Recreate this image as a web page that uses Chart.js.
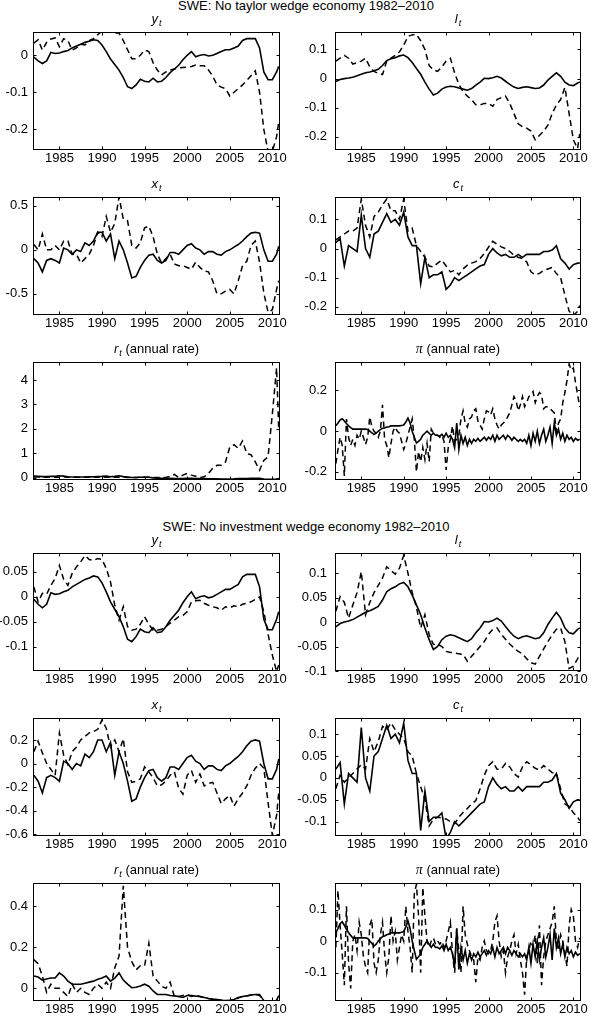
<!DOCTYPE html>
<html>
<head>
<meta charset="utf-8">
<title>SWE wedge economies</title>
<script src="https://cdn.jsdelivr.net/npm/chart.js@4.4.1/dist/chart.umd.min.js"></script>
<style>
    body { margin: 0; background: #fff; }
    #fig { position: relative; width: 591px; height: 1020px; overflow: hidden;
           font-family: "Liberation Sans", Arial, sans-serif; color: #000; }
    #fig canvas { position: absolute; }
    .ptitle { position: absolute; font-size: 13px; line-height: 16px; text-align: center; white-space: nowrap; }
    .btitle { position: absolute; left: 106px; width: 400px; font-size: 13px; line-height: 16px; text-align: center; white-space: nowrap; }
    .sub { font-size: 9px; font-style: italic; position: relative; top: 3px; margin-left: 1px; }
    .pi { font-family: "Liberation Serif", serif; font-style: italic; font-size: 14px; }
</style>
</head>
<body>
<div id="fig"></div>
<script>
// x positions (years)
const halfYears = [
    1982, 1982.5, 1983, 1983.5, 1984, 1984.5, 1985, 1985.5, 1986, 1986.5,
    1987, 1987.5, 1988, 1988.5, 1989, 1989.5, 1990, 1990.5, 1991, 1991.5,
    1992, 1992.5, 1993, 1993.5, 1994, 1994.5, 1995, 1995.5, 1996, 1996.5,
    1997, 1997.5, 1998, 1998.5, 1999, 1999.5, 2000, 2000.5, 2001, 2001.5,
    2002, 2002.5, 2003, 2003.5, 2004, 2004.5, 2005, 2005.5, 2006, 2006.5,
    2007, 2007.5, 2008, 2008.5, 2009, 2009.5, 2010, 2010.5, 2010.75
];
const quarters = [
    1982, 1982.25, 1982.5, 1982.75, 1983, 1983.25, 1983.5, 1983.75,
    1984, 1984.25, 1984.5, 1984.75, 1985, 1985.25, 1985.5, 1985.75,
    1986, 1986.25, 1986.5, 1986.75, 1987, 1987.25, 1987.5, 1987.75,
    1988, 1988.25, 1988.5, 1988.75, 1989, 1989.25, 1989.5, 1989.75,
    1990, 1990.25, 1990.5, 1990.75, 1991, 1991.25, 1991.5, 1991.75,
    1992, 1992.25, 1992.5, 1992.75, 1993, 1993.25, 1993.5, 1993.75,
    1994, 1994.25, 1994.5, 1994.75, 1995, 1995.25, 1995.5, 1995.75,
    1996, 1996.25, 1996.5, 1996.75, 1997, 1997.25, 1997.5, 1997.75,
    1998, 1998.25, 1998.5, 1998.75, 1999, 1999.25, 1999.5, 1999.75,
    2000, 2000.25, 2000.5, 2000.75, 2001, 2001.25, 2001.5, 2001.75,
    2002, 2002.25, 2002.5, 2002.75, 2003, 2003.25, 2003.5, 2003.75,
    2004, 2004.25, 2004.5, 2004.75, 2005, 2005.25, 2005.5, 2005.75,
    2006, 2006.25, 2006.5, 2006.75, 2007, 2007.25, 2007.5, 2007.75,
    2008, 2008.25, 2008.5, 2008.75, 2009, 2009.25, 2009.5, 2009.75,
    2010, 2010.25, 2010.5, 2010.75
];
const yearTicks = [1985, 1990, 1995, 2000, 2005, 2010];

// data (solid), same in both economies
const outputData = [
    -0.005, -0.015, -0.022, -0.015, 0.008, 0.005, 0.006, 0.01, 0.013, 0.02,
    0.025, 0.03, 0.035, 0.038, 0.042, 0.04, 0.028, 0.01, -0.01, -0.025,
    -0.04, -0.06, -0.085, -0.09, -0.08, -0.065, -0.07, -0.072, -0.062, -0.072,
    -0.07, -0.06, -0.047, -0.037, -0.027, -0.012, 0.0, 0.01, -0.004, 0.0,
    0.002, -0.002, 0.0, 0.005, 0.01, 0.015, 0.015, 0.02, 0.025, 0.04,
    0.045, 0.045, 0.045, 0.02, -0.045, -0.066, -0.066, -0.045, -0.03
];
const laborData = [
    -0.01, -0.003, 0.0, 0.002, 0.005, 0.01, 0.015, 0.02, 0.023, 0.027,
    0.032, 0.045, 0.062, 0.068, 0.072, 0.078, 0.081, 0.072, 0.055, 0.035,
    0.015, -0.012, -0.036, -0.056, -0.05, -0.036, -0.029, -0.026, -0.028, -0.032,
    -0.036, -0.04, -0.034, -0.022, -0.012, 0.001, 0.0, 0.003, 0.008, 0.002,
    -0.009, -0.02, -0.029, -0.034, -0.03, -0.028, -0.031, -0.034, -0.032, -0.022,
    -0.005, 0.008, 0.02, 0.008, -0.012, -0.022, -0.024, -0.015, -0.012
];
const investData = [
    -0.1, -0.15, -0.25, -0.12, -0.1, -0.12, -0.15, 0.02, 0.0, -0.05,
    0.0, -0.02, 0.08, 0.05, 0.1, 0.2, 0.2, 0.1, 0.18, -0.1,
    0.1, 0.0, -0.15, -0.32, -0.3, -0.2, -0.12, -0.06, -0.05, -0.12,
    -0.15, -0.12, -0.03, -0.03, -0.05, 0.0, 0.05, 0.07, 0.02, 0.0,
    -0.05, -0.02, -0.02, -0.05, -0.06, -0.02, 0.0, 0.03, 0.06, 0.1,
    0.15, 0.19, 0.2, 0.19, 0.0, -0.13, -0.13, -0.05, 0.04
];
const consData = [
    0.02, 0.035, -0.06, 0.01, 0.0, -0.01, 0.115, 0.0, -0.03, 0.05,
    0.06, 0.09, 0.12, 0.09, 0.1, 0.08, 0.125, 0.04, 0.01, 0.01,
    -0.12, -0.03, -0.1, -0.09, -0.09, -0.08, -0.14, -0.125, -0.1, -0.11,
    -0.1, -0.09, -0.08, -0.07, -0.06, -0.055, -0.02, 0.0, -0.015, -0.025,
    -0.02, -0.03, -0.03, -0.02, -0.03, -0.02, -0.02, -0.02, -0.02, -0.01,
    -0.01, -0.005, 0.01, -0.035, -0.05, -0.07, -0.055, -0.05, -0.05
];
const rateData = [
    0.06, 0.055, 0.04, 0.045, 0.05, 0.05, 0.075, 0.06, 0.035, 0.02,
    0.02, 0.02, 0.025, 0.03, 0.035, 0.044, 0.05, 0.06, 0.035, 0.05,
    0.075, 0.04, 0.02, 0.003, 0.005, 0.011, 0.02, 0.01, -0.013, -0.03,
    -0.03, -0.03, -0.035, -0.037, -0.04, -0.045, -0.035, -0.035, -0.038, -0.04,
    -0.045, -0.05, -0.053, -0.055, -0.058, -0.06, -0.06, -0.055, -0.045, -0.04,
    -0.037, -0.033, -0.03, -0.03, -0.06, -0.068, -0.07, -0.06, -0.035
];
const inflData = [
    0.026, 0.04, 0.055, 0.061,   0.05, 0.038, 0.026, 0.018,
    0.01, 0.01, 0.01, 0.01,      0.01, 0.01, 0.01, 0.008,
    0.0, -0.008, -0.016, -0.01,  0.0, 0.008, 0.014, 0.016,
    0.02, 0.022, 0.026, 0.026,   0.026, 0.026, 0.026, 0.028,
    0.03, 0.045, 0.064, 0.04,    0.0, -0.03, -0.058, -0.05,
    -0.04, -0.02, -0.01, 0.0,    -0.01, -0.02, -0.01, -0.02,
    -0.02, -0.025, -0.015, -0.03, -0.01, -0.03, -0.02, -0.04,
    -0.08, 0.04, -0.09, -0.02,   -0.06, -0.03, -0.07, -0.04,
    -0.06, -0.04, -0.05, -0.035, -0.05, -0.04, -0.03, -0.045,
    -0.03, -0.04, -0.02, -0.05,  -0.02, -0.04, -0.03, -0.02,
    -0.04, -0.02, -0.03, -0.045, -0.03, -0.04, -0.05, -0.04,
    -0.05, -0.04, -0.06, -0.02,  -0.07, -0.01, -0.05, 0.0,
    -0.06, -0.02, 0.01, -0.05,   -0.02, 0.02, -0.06, 0.04,
    -0.02, 0.01, -0.04, -0.01,   -0.05, -0.02, -0.04, -0.03,
    -0.05, -0.035, -0.045, -0.04
];

// model, no taylor wedge (dashed)
const outputNoTaylor = [
    0.033, 0.042, 0.014, 0.035, 0.044, 0.047, 0.023, 0.045, 0.04, 0.014,
    0.02, 0.03, 0.028, 0.04, 0.045, 0.056, 0.065, 0.066, 0.062, 0.06,
    0.06, 0.04, 0.015, -0.009, -0.009, 0.0, 0.014, 0.01, -0.02, -0.04,
    -0.053, -0.045, -0.04, -0.037, -0.034, -0.033, -0.032, -0.03, -0.026, -0.028,
    -0.028, -0.04, -0.056, -0.08, -0.086, -0.09, -0.11, -0.1, -0.09, -0.08,
    -0.068, -0.055, -0.042, -0.1, -0.2, -0.26, -0.26, -0.22, -0.18
];
const laborNoTaylor = [
    0.06, 0.07, 0.08, 0.07, 0.05, 0.055, 0.06, 0.07, 0.04, 0.025,
    0.018, 0.014, 0.06, 0.07, 0.08, 0.092, 0.115, 0.145, 0.15, 0.152,
    0.13, 0.1, 0.045, 0.03, 0.025, 0.04, 0.06, 0.07, 0.02, -0.02,
    -0.045, -0.06, -0.072, -0.09, -0.09, -0.085, -0.085, -0.095, -0.072, -0.065,
    -0.06, -0.085, -0.12, -0.155, -0.165, -0.17, -0.18, -0.21, -0.195, -0.18,
    -0.16, -0.12, -0.09, -0.072, -0.03, -0.12, -0.21, -0.24, -0.19
];
const investNoTaylor = [
    0.06, 0.0, 0.18, 0.0, 0.0, 0.05, 0.0, 0.1, 0.1, -0.05,
    -0.05, -0.15, -0.1, -0.05, 0.05, 0.2, 0.15, 0.38, 0.2, 0.3,
    0.6, 0.35, 0.33, 0.05, 0.02, 0.08, 0.25, 0.27, 0.15, -0.05,
    -0.15, -0.1, -0.05, -0.16, -0.18, -0.18, -0.2, -0.22, -0.14, -0.2,
    -0.24, -0.25, -0.35, -0.5, -0.5, -0.47, -0.45, -0.5, -0.35, -0.18,
    -0.13, 0.05, 0.1, -0.14, -0.49, -0.71, -0.68, -0.45, -0.35
];
const consNoTaylor = [
    0.03, 0.04, 0.05, 0.06, 0.06, 0.07, 0.17, 0.08, 0.04, 0.11,
    0.125, 0.15, 0.17, 0.13, 0.13, 0.1, 0.17, 0.06, 0.07, 0.01,
    -0.01, -0.03, -0.06, -0.063, -0.05, -0.04, -0.06, -0.08, -0.075, -0.09,
    -0.07, -0.057, -0.05, -0.045, -0.034, -0.017, 0.005, 0.025, 0.015, 0.006,
    0.0, -0.01, -0.023, -0.03, -0.034, -0.046, -0.08, -0.09, -0.085, -0.075,
    -0.07, -0.065, -0.086, -0.1, -0.16, -0.215, -0.23, -0.215, -0.195
];
const rateNoTaylor = [
    0.02, 0.02, 0.01, 0.02, 0.01, 0.02, 0.01, 0.02, 0.01, 0.02,
    0.01, 0.02, 0.01, 0.02, 0.01, 0.02, 0.01, 0.02, 0.01, 0.02,
    0.01, 0.02, 0.0, 0.01, 0.0, 0.01, 0.0, 0.01, 0.0, 0.0,
    0.0, 0.0, 0.05, 0.13, 0.0, 0.1, 0.17, 0.1, 0.05, 0.0,
    0.03, 0.17, 0.38, 0.5, 0.5, 0.64, 1.25, 1.35, 1.2, 1.5,
    0.98, 0.94, 0.64, 0.3, 0.7, 0.85, 2.6, 4.5, 2.0
];
const inflNoTaylor = [
    -0.16, -0.09, -0.03, -0.07,  -0.22, 0.06, -0.03, -0.07,
    -0.04, -0.07, -0.02, -0.04,  0.0, -0.03, -0.065, -0.03,
    0.07, 0.02, 0.0, -0.01,      -0.03, 0.0, 0.13, -0.04,
    -0.07, -0.13, -0.06, 0.0,    0.02, 0.0, -0.01, -0.05,
    -0.09, -0.06, -0.02, 0.02,   0.06, -0.04, -0.2, -0.1,
    -0.15, -0.08, -0.14, -0.06,  -0.15, 0.01, -0.01, -0.02,
    -0.02, -0.03, -0.02, -0.05,  -0.19, -0.08, -0.04, 0.025,
    -0.05, -0.04, -0.02, 0.06,   0.1, 0.04, 0.02, 0.06,
    0.07, 0.1, 0.11, 0.05,       0.03, 0.01, 0.06, 0.1,
    0.095, 0.08, 0.11, 0.06,     0.03, 0.01, 0.03, 0.04,
    0.05, 0.07, 0.09, 0.13,      0.17, 0.15, 0.1, 0.13,
    0.17, 0.12, 0.14, 0.17,      0.18, 0.195, 0.14, 0.17,
    0.19, 0.18, 0.11, 0.12,      0.12, 0.11, 0.1, 0.09,
    0.0, 0.04, 0.06, 0.14,       0.19, 0.25, 0.33, 0.3,
    0.31, 0.24, 0.18, 0.12
];

// model, no investment wedge (dashed)
const outputNoInv = [
    0.02, -0.01, 0.007, 0.005, 0.023, 0.037, 0.063, 0.035, 0.023, 0.047,
    0.06, 0.07, 0.083, 0.075, 0.073, 0.077, 0.075, 0.057, 0.03, -0.017,
    -0.047, -0.02, -0.06, -0.067, -0.065, -0.055, -0.04, -0.055, -0.067, -0.067,
    -0.065, -0.06, -0.053, -0.047, -0.04, -0.037, -0.03, -0.01, -0.008, -0.007,
    -0.013, -0.017, -0.02, -0.022, -0.027, -0.02, -0.022, -0.018, -0.02, -0.015,
    -0.013, -0.01, -0.005, 0.0, -0.03, -0.075, -0.117, -0.15, -0.137
];
const laborNoInv = [
    0.022, 0.052, 0.04, 0.008, 0.035, 0.06, 0.103, 0.015, 0.04, 0.06,
    0.075, 0.09, 0.113, 0.105, 0.098, 0.11, 0.136, 0.1, 0.06, 0.03,
    -0.012, 0.015, -0.026, -0.046, -0.045, -0.05, -0.06, -0.062, -0.063, -0.065,
    -0.066, -0.08, -0.07, -0.06, -0.05, -0.04, -0.025, -0.015, -0.012, -0.025,
    -0.035, -0.045, -0.053, -0.06, -0.065, -0.075, -0.083, -0.086, -0.07, -0.055,
    -0.04, -0.026, -0.015, -0.012, -0.04, -0.095, -0.09, -0.075, -0.066
];
const investNoInv = [
    0.1, 0.19, 0.09, 0.0, -0.05, -0.1, 0.26, 0.07, -0.01, 0.1,
    0.14, 0.2, 0.23, 0.26, 0.27, 0.29, 0.37, 0.3, 0.14, 0.2,
    0.1, 0.21, -0.07, -0.16, -0.15, -0.13, -0.03, -0.07, -0.12, -0.19,
    -0.18, -0.15, -0.1, -0.07, -0.21, -0.26, -0.1, -0.06, -0.16, -0.09,
    -0.19, -0.17, -0.16, -0.25, -0.34, -0.3, -0.27, -0.36, -0.3, -0.25,
    -0.19, -0.1, -0.04, 0.0, -0.04, -0.33, -0.61, -0.44, -0.25
];
const consNoInv = [
    -0.025, 0.006, -0.01, 0.0, 0.01, 0.02, 0.03, 0.02, 0.09, 0.06,
    0.083, 0.118, 0.11, 0.126, 0.11, 0.1, 0.09, 0.06, 0.05, 0.01,
    -0.02, -0.05, -0.11, -0.095, -0.09, -0.092, -0.094, -0.1, -0.105, -0.09,
    -0.079, -0.07, -0.06, -0.052, -0.025, 0.006, 0.028, 0.037, 0.02, 0.02,
    0.033, 0.025, 0.01, 0.002, 0.025, 0.037, 0.03, 0.022, 0.018, 0.028,
    0.02, 0.012, 0.01, -0.025, -0.06, -0.065, -0.08, -0.09, -0.098
];
const rateNoInv = [
    0.14, 0.12, 0.06, -0.02, 0.02, 0.0, 0.0, -0.02, -0.04, 0.02,
    -0.02, 0.0, -0.02, -0.03, 0.0, 0.02, 0.0, 0.03, 0.0, 0.1,
    0.157, 0.5, 0.2, 0.13, 0.09, 0.11, 0.11, 0.22, 0.06, 0.035,
    0.01, 0.0, 0.03, -0.04, -0.04, -0.035, -0.03, -0.04, -0.035, -0.04,
    -0.045, -0.05, -0.053, -0.055, -0.058, -0.06, -0.06, -0.055, -0.048, -0.04,
    -0.037, -0.033, -0.03, -0.035, -0.06, -0.068, -0.07, -0.06, -0.04
];
const inflNoInv = [
    -0.02, 0.16, 0.05, -0.04,    -0.14, 0.11, -0.07, -0.15,
    0.0, 0.02, -0.03, 0.06,      0.02, -0.05, -0.08, -0.1,
    0.05, 0.07, -0.07, -0.1,     -0.06, 0.02, 0.06, -0.04,
    -0.1, -0.05, 0.08, 0.0,      0.03, -0.06, -0.02, 0.02,
    0.0, 0.11, 0.03, -0.02,      -0.1, 0.15, 0.18, 0.08,
    -0.1, 0.17, 0.08, 0.0,       -0.02, 0.0, 0.01, -0.01,
    0.0, -0.01, 0.0, -0.02,      0.0, 0.03, 0.06, -0.04,
    -0.1, 0.04, -0.03, -0.1,     0.11, 0.02, -0.01, -0.03,
    -0.05, -0.06, -0.13, -0.05,  -0.06, -0.02, 0.0, -0.03,
    -0.04, -0.03, 0.0, 0.06,     0.08, 0.0, -0.05, -0.03,
    -0.1, -0.05, -0.03, 0.0,     0.02, -0.04, -0.01, -0.06,
    -0.1, -0.17, -0.05, -0.03,   0.0, -0.02, 0.02, -0.07,
    0.05, -0.14, -0.05, 0.0,     0.02, 0.04, 0.06, 0.11,
    0.0, -0.03, 0.02, 0.0,       -0.04, -0.08, 0.05, 0.1,
    0.08, 0.0, -0.02, 0.01
];

// y tick values per panel
const ticksOutputT = [-0.2, -0.1, 0];
const ticksLaborT = [-0.2, -0.1, 0, 0.1];
const ticksInvestT = [-0.5, 0, 0.5];
const ticksConsT = [-0.2, -0.1, 0, 0.1];
const ticksRateT = [0, 1, 2, 3, 4];
const ticksInflT = [-0.2, 0, 0.2];
const ticksOutputI = [-0.1, -0.05, 0, 0.05];
const ticksLaborI = [-0.1, -0.05, 0, 0.05, 0.1];
const ticksInvestI = [-0.6, -0.4, -0.2, 0, 0.2];
const ticksConsI = [-0.1, -0.05, 0, 0.05, 0.1];
const ticksRateI = [0, 0.2, 0.4];
const ticksInflI = [-0.1, 0, 0.1];

const blockTitles = ["SWE: No taylor wedge economy 1982–2010", "SWE: No investment wedge economy 1982–2010"];

const sub = '<span class="sub">t</span>';
const panels = [
    { row: 0, col: 0, title: '<i>y</i>' + sub, xs: halfYears, solid: outputData, dashed: outputNoTaylor, yMin: -0.256, yMax: 0.063, yTicks: ticksOutputT },
    { row: 0, col: 1, title: '<i>l</i>' + sub, xs: halfYears, solid: laborData, dashed: laborNoTaylor, yMin: -0.245, yMax: 0.16, yTicks: ticksLaborT },
    { row: 1, col: 0, title: '<i>x</i>' + sub, xs: halfYears, solid: investData, dashed: investNoTaylor, yMin: -0.74, yMax: 0.6, yTicks: ticksInvestT },
    { row: 1, col: 1, title: '<i>c</i>' + sub, xs: halfYears, solid: consData, dashed: consNoTaylor, yMin: -0.228, yMax: 0.177, yTicks: ticksConsT },
    { row: 2, col: 0, title: '<i>r</i>' + sub + ' (annual rate)', xs: halfYears, solid: rateData, dashed: rateNoTaylor, yMin: -0.1, yMax: 4.74, yTicks: ticksRateT },
    { row: 2, col: 1, title: '<span class="pi">π</span> (annual rate)', xs: quarters, solid: inflData, dashed: inflNoTaylor, yMin: -0.24, yMax: 0.34, yTicks: ticksInflT },
    { row: 3, col: 0, title: '<i>y</i>' + sub, xs: halfYears, solid: outputData, dashed: outputNoInv, yMin: -0.149, yMax: 0.088, yTicks: ticksOutputI },
    { row: 3, col: 1, title: '<i>l</i>' + sub, xs: halfYears, solid: laborData, dashed: laborNoInv, yMin: -0.1, yMax: 0.141, yTicks: ticksLaborI },
    { row: 4, col: 0, title: '<i>x</i>' + sub, xs: halfYears, solid: investData, dashed: investNoInv, yMin: -0.615, yMax: 0.386, yTicks: ticksInvestI },
    { row: 4, col: 1, title: '<i>c</i>' + sub, xs: halfYears, solid: consData, dashed: consNoInv, yMin: -0.133, yMax: 0.137, yTicks: ticksConsI },
    { row: 5, col: 0, title: '<i>r</i>' + sub + ' (annual rate)', xs: halfYears, solid: rateData, dashed: rateNoInv, yMin: -0.062, yMax: 0.514, yTicks: ticksRateI },
    { row: 5, col: 1, title: '<span class="pi">π</span> (annual rate)', xs: quarters, solid: inflData, dashed: inflNoInv, yMin: -0.19, yMax: 0.184, yTicks: ticksInflI }
];

const rowTops = [32, 197, 362, 553, 718, 883];
const plotH = 118;
const tickFont = { family: "'Liberation Sans', Arial, sans-serif", size: 13 };

// MATLAB style box with inward ticks
const matlabBox = {
    id: "matlabBox",
    afterDatasetsDraw(chart) {
        let ctx = chart.ctx;
        let a = chart.chartArea;
        let x = chart.scales.x, y = chart.scales.y;
        let l = Math.round(a.left) + 0.5, r = Math.round(a.right) - 0.5;
        let t = Math.round(a.top) + 0.5, b = Math.round(a.bottom) - 0.5;
        ctx.save();
        ctx.strokeStyle = "#000";
        ctx.lineWidth = 1;
        ctx.beginPath();
        x.ticks.forEach(tk => {
            let px = Math.round(x.getPixelForValue(tk.value)) + 0.5;
            ctx.moveTo(px, b); ctx.lineTo(px, b - 3);
            ctx.moveTo(px, t); ctx.lineTo(px, t + 3);
        });
        y.ticks.forEach(tk => {
            let py = Math.round(y.getPixelForValue(tk.value)) + 0.5;
            ctx.moveTo(l, py); ctx.lineTo(l + 3, py);
            ctx.moveTo(r, py); ctx.lineTo(r - 3, py);
        });
        ctx.stroke();
        ctx.strokeRect(l, t, r - l, b - t);
        ctx.restore();
    }
};

function toPoints(xs, ys) {
    return ys.map((v, i) => ({ x: xs[i], y: v }));
}

function addText(cls, html, left, top, width) {
    let d = document.createElement("div");
    d.className = cls;
    d.innerHTML = html;
    d.style.top = top + "px";
    if (left !== null) {
        d.style.left = left + "px";
        d.style.width = width + "px";
    }
    document.getElementById("fig").appendChild(d);
}

function makePanel(p) {
    let isLeft = p.col === 0;
    let canvasLeft = isLeft ? 0 : 295;
    let canvasW = isLeft ? 292 : 296;
    let axisW = isLeft ? 33 : 40;
    let padRight = isLeft ? 12 : 10;
    let top = rowTops[p.row] - 8;

    let canvas = document.createElement("canvas");
    canvas.width = canvasW;
    canvas.height = 8 + plotH + 20;
    canvas.style.left = canvasLeft + "px";
    canvas.style.top = top + "px";
    document.getElementById("fig").appendChild(canvas);

    addText("ptitle", p.title, canvasLeft + axisW, rowTops[p.row] - 21, canvasW - axisW - padRight);

    new Chart(canvas.getContext("2d"), {
        type: "line",
        data: {
            datasets: [{
                data: toPoints(p.xs, p.solid),
                borderColor: "#000",
                borderWidth: 1.6,
                pointRadius: 0,
                tension: 0,
                clip: 0
            }, {
                data: toPoints(p.xs, p.dashed),
                borderColor: "#000",
                borderWidth: 1.5,
                borderDash: [6, 4],
                pointRadius: 0,
                tension: 0,
                clip: 0
            }]
        },
        options: {
            responsive: false,
            animation: false,
            events: [],
            layout: { padding: { top: 8, right: padRight, bottom: 0, left: 0 } },
            plugins: { legend: { display: false }, tooltip: { enabled: false } },
            scales: {
                x: {
                    type: "linear",
                    min: 1981.9,
                    max: 2010.9,
                    grid: { display: false, drawTicks: false },
                    border: { display: false },
                    ticks: { font: tickFont, color: "#000", padding: 1, maxRotation: 0, autoSkip: false,
                             callback: v => String(v) },
                    afterBuildTicks: s => { s.ticks = yearTicks.map(v => ({ value: v })); },
                    afterFit: s => { s.height = 20; s.paddingLeft = 0; s.paddingRight = 0; }
                },
                y: {
                    type: "linear",
                    min: p.yMin,
                    max: p.yMax,
                    grid: { display: false, drawTicks: false },
                    border: { display: false },
                    ticks: { font: tickFont, color: "#000", padding: isLeft ? 5 : 8,
                             callback: v => String(v) },
                    afterBuildTicks: s => { s.ticks = p.yTicks.map(v => ({ value: v })); },
                    afterFit: s => { s.width = axisW; s.paddingTop = 0; s.paddingBottom = 0; }
                }
            }
        },
        plugins: [matlabBox]
    });
}

addText("btitle", blockTitles[0], null, rowTops[0] - 34, 0);
addText("btitle", blockTitles[1], null, rowTops[3] - 34, 0);
panels.forEach(makePanel);
</script>
</body>
</html>
